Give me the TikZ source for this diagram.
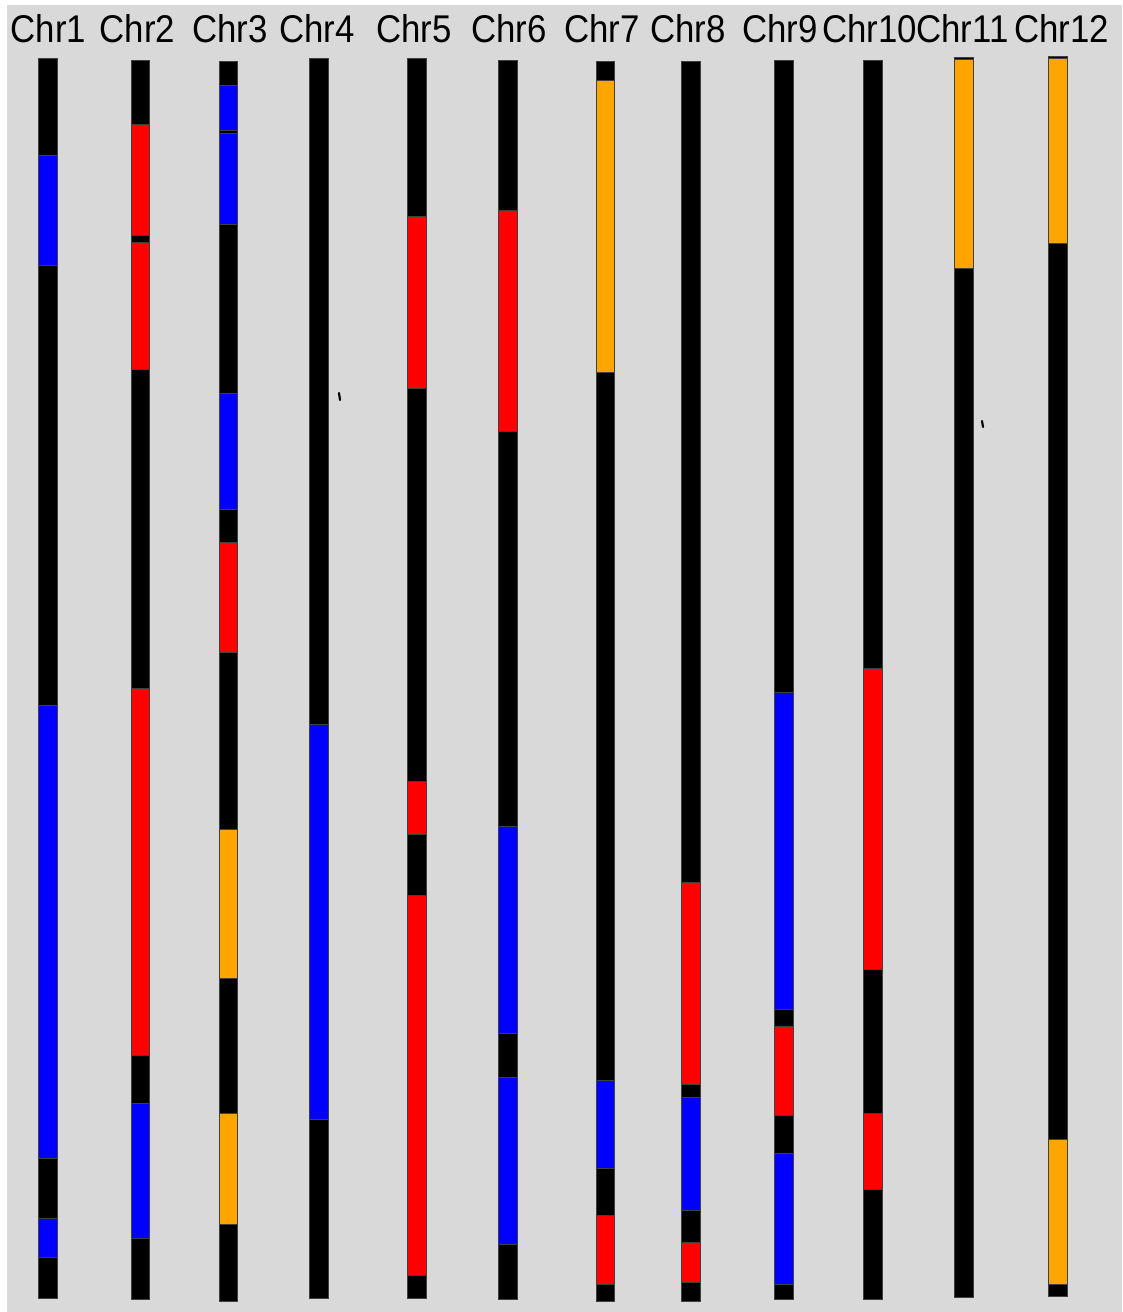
\documentclass[tikz,border=0pt]{standalone}
\usepackage{fontspec}
\setmainfont{Liberation Sans}
\definecolor{bg}{HTML}{D9D9D9}
\definecolor{org}{HTML}{FFA500}
\definecolor{rd}{HTML}{FF0000}
\definecolor{bl}{HTML}{0000FF}
\begin{document}
\begin{tikzpicture}[x=0.75pt,y=-0.75pt,
  seg/.style={draw=black!75,line width=0.5pt},
  lab/.style={font=\fontsize{29}{30}\selectfont,inner sep=0pt,anchor=base west,xscale=0.9},
  tick/.style={line width=1.6pt,line cap=round}]
\fill[white] (0,0) rectangle (1122,1312);
\fill[bg] (7,5) rectangle (1122,1312);
\useasboundingbox (0,0) rectangle (1122,1312);
% labels
\node[lab] (l1) at (10.5,43) {Chr1};
\node[lab] (l2) at (99.5,43) {Chr2};
\node[lab] (l3) at (192,43) {Chr3};
\node[lab] (l4) at (279,43) {Chr4};
\node[lab] (l5) at (376,43) {Chr5};
\node[lab] (l6) at (471,43) {Chr6};
\node[lab] (l7) at (564,43) {Chr7};
\node[lab] (l8) at (650,43) {Chr8};
\node[lab] (l9) at (742,43) {Chr9};
\node[lab] (l10) at (822,43) {Chr10};
\node[lab] (l11) at (916,43) {Chr11};
\node[lab] (l12) at (1014,43) {Chr12};
% Chr1
\draw[seg,fill=black] (38,58) rectangle (57,1298);
\foreach \a/\b/\c in {155/265/bl,705/1158/bl,1218/1257/bl}
  \draw[seg,fill=\c] (38,\a) rectangle (57,\b);
% Chr2
\draw[seg,fill=black] (131,60) rectangle (149,1299);
\foreach \a/\b/\c in {124/235/rd,242/369/rd,688/1055/rd,1103/1238/bl}
  \draw[seg,fill=\c] (131,\a) rectangle (149,\b);
% Chr3
\draw[seg,fill=black] (219,61) rectangle (237,1301);
\foreach \a/\b/\c in {85/130/bl,133/224/bl,393/509/bl,542/652/rd,829/978/org,1113/1224/org}
  \draw[seg,fill=\c] (219,\a) rectangle (237,\b);
% Chr4
\draw[seg,fill=black] (309,58) rectangle (328,1298);
\foreach \a/\b/\c in {724/1119/bl}
  \draw[seg,fill=\c] (309,\a) rectangle (328,\b);
\draw[tick] (339,393) -- (340,400);
% Chr5
\draw[seg,fill=black] (407,58) rectangle (426,1298);
\foreach \a/\b/\c in {216/388/rd,781/834/rd,895/1275/rd}
  \draw[seg,fill=\c] (407,\a) rectangle (426,\b);
% Chr6
\draw[seg,fill=black] (498,60) rectangle (517,1299);
\foreach \a/\b/\c in {210/431/rd,826/1033/bl,1077/1244/bl}
  \draw[seg,fill=\c] (498,\a) rectangle (517,\b);
% Chr7
\draw[seg,fill=black] (596,61) rectangle (614,1301);
\foreach \a/\b/\c in {80/372/org,1080/1168/bl,1215/1284/rd}
  \draw[seg,fill=\c] (596,\a) rectangle (614,\b);
% Chr8
\draw[seg,fill=black] (681,61) rectangle (700,1301);
\foreach \a/\b/\c in {882/1084/rd,1097/1210/bl,1242/1282/rd}
  \draw[seg,fill=\c] (681,\a) rectangle (700,\b);
% Chr9
\draw[seg,fill=black] (774,60) rectangle (793,1299);
\foreach \a/\b/\c in {692/1009/bl,1026/1115/rd,1153/1284/bl}
  \draw[seg,fill=\c] (774,\a) rectangle (793,\b);
% Chr10
\draw[seg,fill=black] (863,60) rectangle (882,1299);
\foreach \a/\b/\c in {668/969/rd,1113/1189/rd}
  \draw[seg,fill=\c] (863,\a) rectangle (882,\b);
% Chr11
\draw[seg,fill=black] (954,57) rectangle (973,1297);
\foreach \a/\b/\c in {59/268/org}
  \draw[seg,fill=\c] (954,\a) rectangle (973,\b);
\draw[tick] (982,421) -- (983,427);
% Chr12
\draw[seg,fill=black] (1048,56) rectangle (1067,1296);
\foreach \a/\b/\c in {58/243/org,1139/1284/org}
  \draw[seg,fill=\c] (1048,\a) rectangle (1067,\b);
\end{tikzpicture}
\end{document}
